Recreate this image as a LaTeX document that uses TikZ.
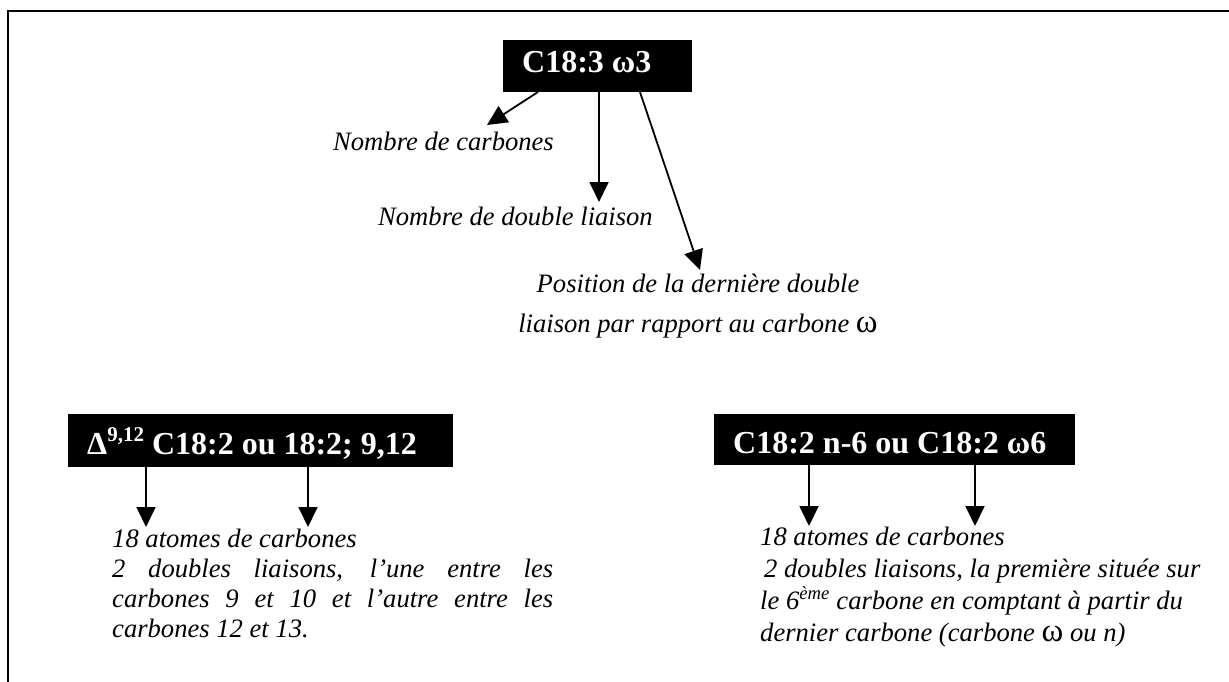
\documentclass[tikz,border=0pt]{standalone}
\usepackage{fontspec}
\setmainfont{Liberation Serif}
\usetikzlibrary{arrows.meta}
\begin{document}
\begin{tikzpicture}[x=1pt,y=-1pt,
  blackbox/.style={fill=black,text=white,inner sep=0pt,anchor=south west,
    font=\bfseries\fontsize{32}{32}\selectfont},
  arr/.style={-{Triangle[length=20pt,width=19pt]},line width=1.8pt},
  lbl/.style={inner sep=0pt,font=\itshape\fontsize{26.6}{30}\selectfont},
  frame/.style={line width=2pt}]
\useasboundingbox (0,0) rectangle (1229,682);
% frame
\coordinate (fa) at (7,11);
\coordinate (fb) at (1229,11);
\coordinate (fc) at (8,682);
\draw[frame] (fb) -- (fa |- fb) (fc |- fa) -- (fc);
% boxes
\node[blackbox,text height=33pt,text depth=19pt] (b1) at (503,92)
  {\makebox[189pt][l]{\hspace*{19pt}C18:3 ω3}};
\node[blackbox,text height=41pt,text depth=12pt] (b2) at (68,467)
  {\makebox[385pt][l]{\hspace*{19pt}Δ\raisebox{13pt}{\fontsize{21}{21}\selectfont 9,12} C18:2 ou 18:2; 9,12}};
\node[blackbox,text height=40pt,text depth=11pt] (b3) at (714,465)
  {\makebox[361pt][l]{\hspace*{19pt}C18:2 n-6 ou C18:2 ω6}};
% top labels
\node[lbl,anchor=base west] (l1) at (333,150) {Nombre de carbones};
\node[lbl,anchor=base west] (l2) at (378,225) {Nombre de double liaison};
\node[lbl,anchor=base] (l3) at (698,292)
  {\parbox[t]{400pt}{\centering\fontsize{26.6}{40}\selectfont
   Position de la dernière double\\
   liaison par rapport au carbone {\upshape\fontsize{33}{33}\selectfont ω}}};
% top arrows
\coordinate (s1) at (538,92);
\coordinate (t1) at (487,125);
\coordinate (t2) at (599,202);
\coordinate (s3) at (640,92);
\coordinate (t3) at (700,270);
\draw[arr] (b1.south -| s1) -- (t1);
\draw[arr] (b1.south -| t2) -- (t2);
\draw[arr] (b1.south -| s3) -- (t3);
% bottom paragraphs
\node[lbl,anchor=base west] (p1) at (112,547)
  {\parbox[t]{441pt}{\fontsize{26.6}{30}\selectfont
   18 atomes de carbones\\
   \makebox[441pt][s]{2 doubles liaisons, l’une entre les}\\
   \makebox[441pt][s]{carbones 9 et 10 et l’autre entre les}\\
   carbones 12 et 13.}};
\node[lbl,anchor=base west] (p2) at (760,545)
  {\parbox[t]{465pt}{\raggedright\fontsize{26.6}{32}\selectfont
   18 atomes de carbones\\
   \hspace*{4pt}2 doubles liaisons, la première située sur\\
   le 6\textsuperscript{ème} carbone en comptant à partir du\\
   dernier carbone (carbone {\upshape\fontsize{33}{33}\selectfont ω} ou n)}};
% bottom arrows
\coordinate (t4) at (146,527);
\coordinate (t5) at (308,527);
\coordinate (t6) at (809,526);
\coordinate (t7) at (975,526);
\draw[arr] (b2.south -| t4) -- (t4);
\draw[arr] (b2.south -| t5) -- (t5);
\draw[arr] (b3.south -| t6) -- (t6);
\draw[arr] (b3.south -| t7) -- (t7);
\end{tikzpicture}
\end{document}
